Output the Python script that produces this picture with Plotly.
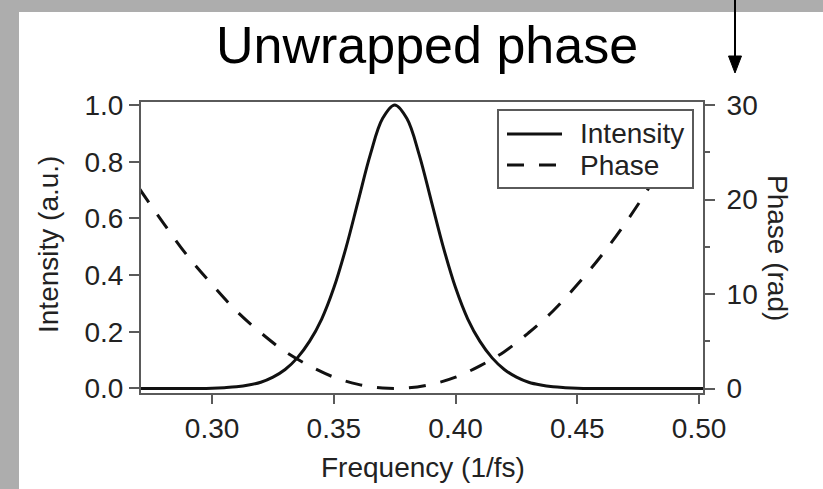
import plotly.graph_objects as go

# ---- data ----
freq_i = [0.270, 0.275, 0.280, 0.285, 0.290, 0.295, 0.300, 0.305, 0.310, 0.315,
          0.320, 0.325, 0.330, 0.335, 0.340, 0.345, 0.350, 0.355, 0.360, 0.365,
          0.370, 0.375, 0.380, 0.385, 0.390, 0.395, 0.400, 0.405, 0.410, 0.415,
          0.420, 0.425, 0.430, 0.435, 0.440, 0.445, 0.450, 0.455, 0.460, 0.465,
          0.470, 0.475, 0.480, 0.485, 0.490, 0.495, 0.500, 0.505]
intensity = [0.000, 0.000, 0.000, 0.000, 0.000, 0.000, 0.001, 0.003, 0.006, 0.012,
             0.022, 0.040, 0.067, 0.108, 0.166, 0.245, 0.355, 0.497, 0.662, 0.826,
             0.952, 1.000, 0.952, 0.826, 0.662, 0.497, 0.355, 0.245, 0.166, 0.108,
             0.067, 0.040, 0.022, 0.012, 0.006, 0.003, 0.001, 0.000, 0.000, 0.000,
             0.000, 0.000, 0.000, 0.000, 0.000, 0.000, 0.000, 0.000]

freq_p = [0.27, 0.28, 0.29, 0.30, 0.31, 0.32, 0.33, 0.34, 0.35, 0.36, 0.37, 0.38,
          0.39, 0.40, 0.41, 0.42, 0.43, 0.44, 0.45, 0.46, 0.47, 0.48, 0.49]
phase = [21.2, 17.5, 14.0, 11.0, 8.2, 5.9, 3.9, 2.4, 1.2, 0.44, 0.05, 0.05,
         0.44, 1.2, 2.4, 3.9, 5.9, 8.2, 11.0, 14.1, 17.6, 21.5, 25.8]

series_names = ["Intensity", "Phase"]

x_ticks = [0.30, 0.35, 0.40, 0.45, 0.50]
x_labels = ["0.30", "0.35", "0.40", "0.45", "0.50"]
y_ticks = [0.0, 0.2, 0.4, 0.6, 0.8, 1.0]
y_labels = ["0.0", "0.2", "0.4", "0.6", "0.8", "1.0"]
y2_ticks = [0, 10, 20, 30]
y2_labels = ["0", "10", "20", "30"]
y2_minor = [5, 15, 25]

# ---- geometry ----
W, H = 823, 489
L, R, T, B = 141, 120, 102, 96
PW, PH = W - L - R, H - T - B


def px_x(px):
    return (px - L) / PW


def px_y(py):
    return (H - B - py) / PH


FONT = "Liberation Sans, Arial, Helvetica, sans-serif"
AX = "#5a5a5a"
INK = "#111111"
TXT = "#222222"
DASH = "17px,15px"

fig = go.Figure()
fig.add_trace(go.Scatter(x=freq_i, y=intensity, name=series_names[0], mode="lines",
                         line=dict(color=INK, width=3, shape="spline"), yaxis="y",
                         showlegend=False))
fig.add_trace(go.Scatter(x=freq_p, y=phase, name=series_names[1], mode="lines",
                         line=dict(color=INK, width=3, dash=DASH, shape="spline"),
                         yaxis="y2", showlegend=False))

axis_common = dict(showgrid=False, zeroline=False, showline=True, linecolor=AX, linewidth=2,
                   ticks="outside", tickwidth=2, tickcolor=AX,
                   tickfont=dict(family=FONT, size=28, color=TXT))

fig.update_layout(
    width=W, height=H,
    margin=dict(l=L, r=R, t=T, b=B, pad=0),
    paper_bgcolor="white", plot_bgcolor="white",
    font=dict(family=FONT, size=28, color=TXT),
    xaxis=dict(range=[0.2708, 0.5016], tickvals=x_ticks, ticktext=x_labels, ticklen=9,
               mirror=True, **axis_common),
    yaxis=dict(range=[-0.0159, 1.0106], tickvals=y_ticks, ticktext=y_labels, ticklen=10,
               mirror=True, **axis_common),
    yaxis2=dict(range=[-0.476, 30.32], tickvals=y2_ticks, ticktext=y2_labels, ticklen=10,
                overlaying="y", side="right", ticklabelstandoff=6,
                minor=dict(tickvals=y2_minor, ticks="outside", ticklen=5, tickwidth=2,
                           tickcolor=AX, showgrid=False),
                **axis_common),
    showlegend=False,
)

shapes = [
    # gray frame strips
    dict(type="rect", xref="paper", yref="paper", x0=px_x(0), x1=px_x(19),
         y0=px_y(H), y1=px_y(0), fillcolor="#adadad", line=dict(width=0), layer="above"),
    dict(type="rect", xref="paper", yref="paper", x0=px_x(0), x1=px_x(W),
         y0=px_y(12), y1=px_y(0), fillcolor="#adadad", line=dict(width=0), layer="above"),
    # arrow
    dict(type="line", xref="paper", yref="paper", x0=px_x(735), x1=px_x(735),
         y0=px_y(0), y1=px_y(60), line=dict(color="black", width=2), layer="above"),
    dict(type="path", xref="paper", yref="paper",
         path=f"M {px_x(728.5)} {px_y(56)} L {px_x(741.5)} {px_y(56)} L {px_x(735)} {px_y(73)} Z",
         fillcolor="black", line=dict(color="black", width=1), layer="above"),
    # legend box
    dict(type="rect", xref="paper", yref="paper", x0=px_x(498), x1=px_x(693),
         y0=px_y(188), y1=px_y(110), fillcolor="white", line=dict(color=AX, width=2),
         layer="above"),
    dict(type="line", xref="paper", yref="paper", x0=px_x(507), x1=px_x(562),
         y0=px_y(134), y1=px_y(134), line=dict(color=INK, width=3), layer="above"),
    dict(type="line", xref="paper", yref="paper", x0=px_x(507), x1=px_x(562),
         y0=px_y(165), y1=px_y(165), line=dict(color=INK, width=3, dash=DASH),
         layer="above"),
]
fig.update_layout(shapes=shapes)

annotations = [
    dict(text="Unwrapped phase", x=px_x(427), y=px_y(45), xref="paper", yref="paper",
         xanchor="center", yanchor="middle", showarrow=False,
         font=dict(family=FONT, size=52, color="black")),
    dict(text="Frequency (1/fs)", x=px_x(423), y=px_y(467), xref="paper", yref="paper",
         xanchor="center", yanchor="middle", showarrow=False,
         font=dict(family=FONT, size=28, color=TXT)),
    dict(text="Intensity (a.u.)", x=px_x(48), y=px_y(245), xref="paper", yref="paper",
         xanchor="center", yanchor="middle", showarrow=False, textangle=-90,
         font=dict(family=FONT, size=28, color=TXT)),
    dict(text="Phase (rad)", x=px_x(778), y=px_y(248), xref="paper", yref="paper",
         xanchor="center", yanchor="middle", showarrow=False, textangle=90,
         font=dict(family=FONT, size=28, color=TXT)),
    dict(text=series_names[0], x=px_x(578), y=px_y(133), xref="paper", yref="paper",
         xanchor="left", yanchor="middle", showarrow=False,
         font=dict(family=FONT, size=28, color=TXT)),
    dict(text=series_names[1], x=px_x(578), y=px_y(165), xref="paper", yref="paper",
         xanchor="left", yanchor="middle", showarrow=False,
         font=dict(family=FONT, size=28, color=TXT)),
]
fig.update_layout(annotations=annotations)

fig.write_html("out.html")
